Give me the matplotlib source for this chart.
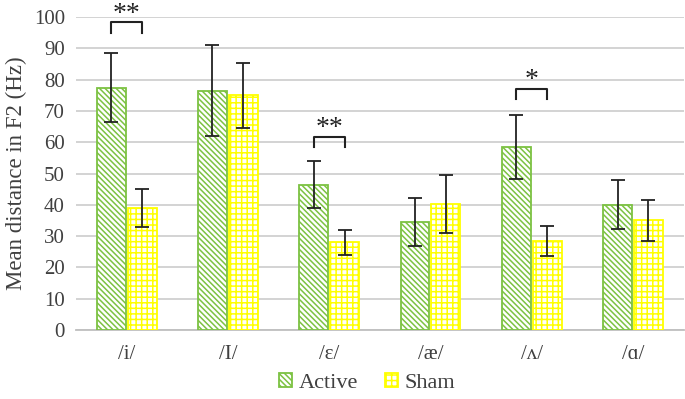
import numpy as np
import matplotlib.pyplot as plt

plt.rcParams["font.family"] = ["Liberation Serif", "DejaVu Serif"]
plt.rcParams["hatch.linewidth"] = 1.1

# data
vowels = ['/i/', '/I/', '/ɛ/', '/æ/', '/ʌ/', '/ɑ/']
active = [77.5, 76.5, 46.5, 34.5, 58.5, 40.0]
active_err = [11.0, 14.5, 7.5, 7.7, 10.2, 7.8]
sham = [39.0, 75.0, 28.0, 40.3, 28.5, 35.0]
sham_err = [6.0, 10.5, 4.0, 9.3, 4.8, 6.7]
# significance: (group index, bracket level, stars)
sig = [(0, 95, '**'), (2, 58.5, '**'), (4, 73.8, '*')]

green = '#7cc242'
yellow = '#ffff00'

fig = plt.figure(figsize=(6.85, 3.99), dpi=100)
ax = fig.add_axes([0.111, 0.173, 0.887, 0.784])

x = np.arange(len(vowels))
w = 0.285
ax.bar(x - w / 2 - 0.01, active, w, facecolor='white', edgecolor=green,
       hatch='\\' * 6, linewidth=1.3, label='Active', zorder=3)
ax.bar(x + w / 2 + 0.01, sham, w, facecolor='white', edgecolor=yellow,
       hatch='+++', linewidth=1.3, label='Sham', zorder=3)
ax.errorbar(x - w / 2 - 0.01, active, yerr=active_err, fmt='none', ecolor='#222222',
            elinewidth=1.3, capsize=5, capthick=1.3, zorder=4)
ax.errorbar(x + w / 2 + 0.01, sham, yerr=sham_err, fmt='none', ecolor='#222222',
            elinewidth=1.3, capsize=5, capthick=1.3, zorder=4)

for i, lvl, stars in sig:
    x0, x1 = i - w / 2 - 0.01, i + w / 2 + 0.01
    ax.plot([x0, x0, x1, x1], [lvl, lvl + 3.3, lvl + 3.3, lvl], color='#222222',
            lw=1.5, clip_on=False, zorder=5)
    ax.text(i, lvl + 1.8, stars, ha='center', va='bottom', fontsize=20,
            color='#222222', clip_on=False)

ax.set_xlim(-0.5, 5.5)
ax.set_ylim(0, 100)
ax.set_yticks(range(0, 101, 10))
ax.set_xticks(x)
ax.set_xticklabels(vowels)
ax.tick_params(axis='both', length=0, labelsize=15, colors='#404040')
ax.tick_params(axis='x', pad=11)
ax.tick_params(axis='y', pad=8)
ax.grid(axis='y', color='#d0d0d0', linewidth=1.3, zorder=0)
ax.set_axisbelow(True)
for s in ['top', 'right', 'left']:
    ax.spines[s].set_visible(False)
ax.spines['bottom'].set_color('#bfbfbf')
ax.spines['bottom'].set_linewidth(1.3)
ax.set_ylabel('Mean distance in F2 (Hz)', fontsize=16.5, color='#404040', labelpad=5)

fig.legend(loc='lower center', bbox_to_anchor=(0.536, -0.035), ncol=2, frameon=False,
           fontsize=16, handlelength=0.6, handleheight=0.6, handletextpad=0.3,
           columnspacing=1.2, labelcolor='#404040')

fig.savefig('out.png', dpi=100)
